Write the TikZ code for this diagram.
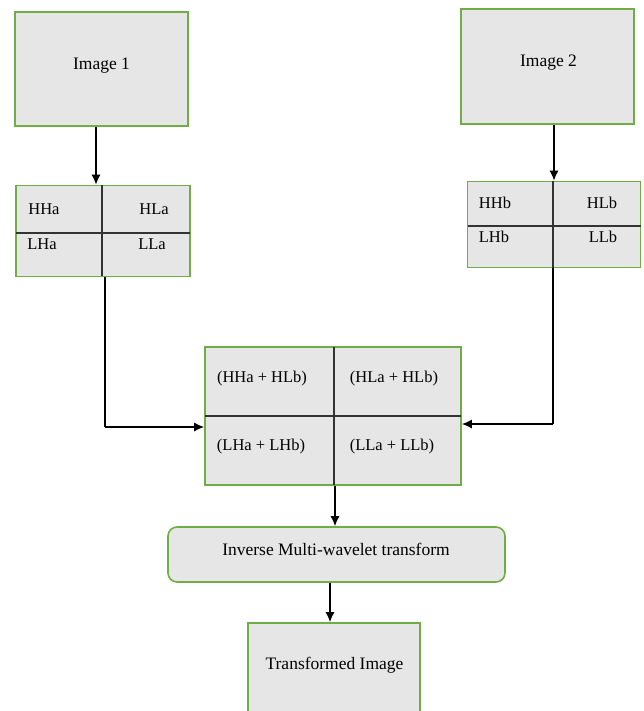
\documentclass[tikz,border=0pt]{standalone}
\usepackage{fontspec}
\setmainfont{Liberation Serif}
\usepackage{tikz}
\usetikzlibrary{arrows.meta}
\definecolor{boxgreen}{RGB}{112,173,71}
\definecolor{boxgray}{RGB}{230,230,230}

\begin{document}
\begin{tikzpicture}[x=1pt,y=-1pt,
  box/.style={draw=boxgreen, fill=boxgray, line width=1.6pt, inner sep=0pt},
  big/.style={font=\fontsize{17.5}{20}\selectfont},
  cell/.style={font=\fontsize{16.5}{19}\selectfont, inner sep=0pt},
  divider/.style={line width=1.1pt, draw=black!80},
  arr/.style={line width=1.4pt, -{Latex[length=10pt,width=9pt]}}]
\useasboundingbox (0,0) rectangle (643,711);
\clip (0,0) rectangle (643,711);
% input images
\node[box, minimum width=173pt, minimum height=114pt] (img1) at (101.5,69) {};
\node[big] (img1t) at (101.5,65.5) {Image 1};
\node[box, minimum width=173pt, minimum height=115pt] (img2) at (547.5,66.5) {};
\node[big] (img2t) at (548.5,62.5) {Image 2};
% sub-bands of image 1
\node[box, minimum width=174pt, minimum height=91pt] (bandsA) at (103,231) {};
\draw[divider] (102,185) -- (102,276);
\draw[divider] (16,233) -- (190,233);
\node[cell] (hha) at (44,209) {HHa};
\node[cell] (hla) at (154,209) {HLa};
\node[cell] (lha) at (42,244) {LHa};
\node[cell] (lla) at (152,244) {LLa};
% sub-bands of image 2
\node[box, minimum width=173pt, minimum height=86pt] (bandsB) at (554,224.5) {};
\draw[divider] (553,181.5) -- (553,267.5);
\draw[divider] (467.5,226) -- (640.5,226);
\node[cell] (hhb) at (495,203) {HHb};
\node[cell] (hlb) at (602,203) {HLb};
\node[cell] (lhb) at (494,237) {LHb};
\node[cell] (llb) at (603,237) {LLb};
% fused sub-bands
\node[box, minimum width=256pt, minimum height=138pt] (fused) at (333,416) {};
\draw[divider] (334,347) -- (334,485);
\draw[divider] (205,416) -- (461,416);
\node[cell] (fhh) at (262,378.5) {(HHa + HLb)};
\node[cell] (fhl) at (394,378.5) {(HLa + HLb)};
\node[cell] (flh) at (261,446.5) {(LHa + LHb)};
\node[cell] (fll) at (392,446.5) {(LLa + LLb)};
% inverse transform and result
\node[box, rounded corners=9pt, minimum width=337pt, minimum height=55pt] (inverse) at (336.5,554.5) {};
\node[big] (inverset) at (336,549) {Inverse Multi-wavelet transform};
\node[box, minimum width=172pt, minimum height=120pt] (result) at (334,683) {};
\node[big] (resultt) at (334.5,665) {Transformed Image};
% connectors
\coordinate (aturn) at (105,427);
\coordinate (bturn) at (553,424);
\draw[arr] ([xshift=-5.5pt]img1.south) -- ([xshift=-5.5pt]img1.south |- bandsA.north);
\draw[arr] (bandsB.north |- img2.south) -- (bandsB.north);
\draw[line width=1.4pt] ([xshift=2pt]bandsA.south) -- (aturn);
\draw[arr] (aturn) -- (aturn -| fused.west);
\draw[line width=1.4pt] (bandsB.south -| bturn) -- (bturn);
\draw[arr] (bturn) -- (bturn -| fused.east);
\draw[arr] ([xshift=2pt]fused.south) -- ([xshift=2pt]fused.south |- inverse.north);
\draw[arr] ([xshift=-6.5pt]inverse.south) -- ([xshift=-6.5pt]inverse.south |- result.north);
\end{tikzpicture}
\end{document}
